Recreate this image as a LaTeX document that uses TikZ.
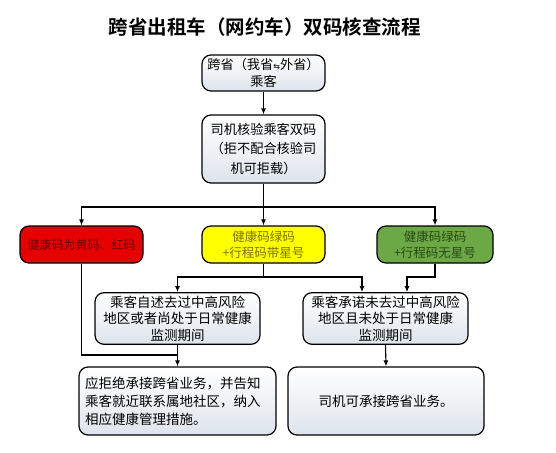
\documentclass[tikz,border=0pt]{standalone}
\usepackage{fontspec}
\usepackage{xcolor}
\usetikzlibrary{arrows.meta,positioning}
\newfontfamily\cjk[BoldFont={Noto Sans CJK SC Bold}]{Noto Sans CJK SC}
\newfontfamily\symfont{DejaVu Sans}
\definecolor{boxred}{RGB}{230,0,0}
\definecolor{boxyellow}{RGB}{255,255,0}
\definecolor{boxgreen}{RGB}{108,168,70}
\definecolor{txtred}{RGB}{100,0,0}
\definecolor{txtyellow}{RGB}{125,115,0}
\definecolor{txtgreen}{RGB}{40,75,20}
\definecolor{boxshade}{RGB}{222,228,236}

\begin{document}
\begin{tikzpicture}[
        x=1pt, y=1pt,
        font=\cjk\fontsize{13.2}{19.5}\selectfont,
        box/.style={draw, line width=1.2pt, rounded corners=9pt, align=center, inner sep=3pt,
            top color=white, bottom color=boxshade},
        colbox/.style={draw, line width=1.2pt, rounded corners=9pt, align=center, inner sep=2pt,
            minimum height=37pt, font=\cjk\fontsize{12.5}{16}\selectfont},
        arr/.style={-{Latex[length=6pt,width=5pt]}, line width=1.1pt},
        line/.style={line width=1.1pt}
    ]
        \useasboundingbox (0,0) rectangle (556,-452);
        \node[font=\cjk\bfseries\fontsize{19.5}{22}\selectfont] (title) at (264.5,-27) {跨省出租车（网约车）双码核查流程};
        \node[box, minimum width=123pt, minimum height=36pt, font=\cjk\fontsize{13.2}{17}\selectfont] (pass) at (263.5,-73)
            {跨省（我省{\symfont\fontsize{8}{8}\selectfont ⇆}外省）\\乘客};
        \node[box, minimum width=123pt, minimum height=68pt] (check) at (263.5,-149)
            {司机核验乘客双码\\（拒不配合核验司\\机可拒载）};
        \node[colbox, fill=boxred, text=txtred, minimum width=123pt, font=\cjk\fontsize{12}{16}\selectfont] (red) at (81.5,-244.5)
            {健康码为黄码、红码};
        \node[colbox, fill=boxyellow, text=txtyellow, minimum width=123pt] (yellow) at (263.5,-244.5)
            {健康码绿码\\+行程码带星号};
        \node[colbox, fill=boxgreen, text=txtgreen, minimum width=116pt] (green) at (435,-244.5)
            {健康码绿码\\+行程码无星号};
        \node[box, minimum width=165pt, minimum height=51pt, font=\cjk\fontsize{13.5}{16.5}\selectfont] (self) at (177.5,-318.5)
            {乘客自述去过中高风险\\地区或者尚处于日常健康\\监测期间};
        \node[box, minimum width=165pt, minimum height=51pt, font=\cjk\fontsize{13.5}{16.5}\selectfont] (promise) at (385.5,-318.5)
            {乘客承诺未去过中高风险\\地区且未处于日常健康\\监测期间};
        \node[box, minimum width=197pt, minimum height=68pt, text width=185pt, align=left,
            font=\cjk\fontsize{13.5}{18}\selectfont] (refuse) at (177.5,-401)
            {应拒绝承接跨省业务，并告知\\乘客就近联系属地社区，纳入\\相应健康管理措施。};
        \node[box, minimum width=196pt, minimum height=68pt, font=\cjk\fontsize{13.5}{17}\selectfont] (accept) at (386,-401)
            {司机可承接跨省业务。};
        % junctions
        \coordinate (j1) at (263.5,-207);
        \coordinate (j2) at (263.5,-277);
        \coordinate (j3) at (177.5,-355);
        \coordinate (pl) at ([xshift=-23.5]promise.north);
        \coordinate (pr) at ([xshift=21.5]promise.north);
        \draw[arr] (pass) -- (check);
        \draw[line] (check) -- (j1);
        \draw[arr] (j1) -| (red.north);
        \draw[arr] (j1) -- (yellow.north);
        \draw[arr] (j1) -| (green.north);
        \draw[line] (red.south) |- (j3);
        \draw[line] (yellow.south) -- (j2);
        \draw[arr] (j2) -| (self.north);
        \draw[arr] (j2) -| (pl);
        \draw[arr] (green.south) |- (pr |- j2) -- (pr);
        \draw[arr] (self.south) -- (refuse.north);
        \draw[arr] (promise.south) -- (accept.north);
    \end{tikzpicture}
\end{document}
